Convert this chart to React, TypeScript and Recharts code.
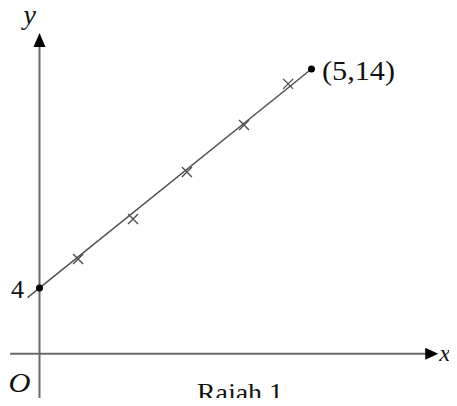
import { ComposedChart, XAxis, YAxis, Line, Scatter, ReferenceLine, ReferenceDot } from 'recharts';

// fitted straight line, drawn a little past the y-axis
const LINE_X = [-0.22, 5];
const LINE_Y = [3.56, 14];

// plotted points (crosses)
const CROSS_X = [0.71, 1.72, 2.71, 3.76, 4.57];
const CROSS_Y = [5.32, 7.15, 9.3, 11.44, 13.32];

// labelled points (filled dots)
const DOT_X = [0, 5];
const DOT_Y = [4, 14];
const DOT_LABELS = ['4', '(5,14)'];

// the sketch is not to scale: horizontal axis sits at y = 1
const X_AXIS_LEVEL = 1;
const X_AXIS_END = [-0.54, 7.33];
const Y_AXIS_END = [-1.2, 15.64];

const lineData = LINE_X.map((x, i) => ({ x, y: LINE_Y[i] }));
const crossData = CROSS_X.map((x, i) => ({ x, y: CROSS_Y[i] }));
const dotData = DOT_X.map((x, i) => ({ x, y: DOT_Y[i] }));

const W = 457;
const H = 406;
const AXIS = '#6a6a6a';
const INK = '#505050';
const SERIF = 'Liberation Serif';

function Cross({ cx, cy }: { cx?: number; cy?: number }) {
  if (cx == null || cy == null) return null;
  const s = 5;
  return (
    <path
      d={`M${cx - s},${cy - s}L${cx + s},${cy + s}M${cx - s},${cy + s}L${cx + s},${cy - s}`}
      stroke={INK}
      strokeWidth={1.4}
      fill="none"
    />
  );
}

function Dot({ cx, cy }: { cx?: number; cy?: number }) {
  if (cx == null || cy == null) return null;
  return <circle cx={cx} cy={cy} r={3.5} fill="#000" />;
}

const arrowUp = ({ cx, cy }: { cx: number; cy: number }) => (
  <path d={`M${cx},${cy}L${cx - 6},${cy + 14}L${cx + 6},${cy + 14}Z`} fill="#000" />
);

const arrowRight = ({ cx, cy }: { cx: number; cy: number }) => (
  <path d={`M${cx},${cy}L${cx - 13},${cy - 6}L${cx - 13},${cy + 6}Z`} fill="#000" />
);

// text placed relative to a reference point
function textAt(
  value: string,
  dx: number,
  dy: number,
  size: number,
  opts: { italic?: boolean; width?: number } = {},
) {
  return ({ cx, cy }: { cx: number; cy: number }) => (
    <text
      x={cx + dx}
      y={cy + dy}
      style={{ fontFamily: SERIF, fontSize: size, fontStyle: opts.italic ? 'italic' : 'normal' }}
      fill="#111"
      textLength={opts.width}
      lengthAdjust={opts.width ? 'spacingAndGlyphs' : undefined}
    >
      {value}
    </text>
  );
}

export default function App() {
  return (
    <div style={{ margin: -8, width: W, height: H, background: '#fff', overflow: 'visible' }}>
      <ComposedChart
        width={W}
        height={H}
        margin={{ top: 0, right: 0, bottom: 0, left: 0 }}
        style={{ overflow: 'visible' }}
      >
        <XAxis type="number" dataKey="x" hide domain={[-0.726, 7.675]} allowDataOverflow />
        <YAxis type="number" dataKey="y" hide domain={[-1.39, 17.15]} allowDataOverflow />

        <ReferenceLine
          segment={[{ x: 0, y: Y_AXIS_END[0] }, { x: 0, y: Y_AXIS_END[1] - 0.5 }]}
          stroke={AXIS}
          strokeWidth={2}
        />
        <ReferenceLine
          segment={[{ x: X_AXIS_END[0], y: X_AXIS_LEVEL }, { x: X_AXIS_END[1] - 0.2, y: X_AXIS_LEVEL }]}
          stroke={AXIS}
          strokeWidth={2}
        />
        <ReferenceDot x={0} y={Y_AXIS_END[1]} shape={arrowUp} />
        <ReferenceDot x={X_AXIS_END[1]} y={X_AXIS_LEVEL} shape={arrowRight} />

        <Line
          data={lineData}
          dataKey="y"
          stroke={INK}
          strokeWidth={1.5}
          dot={false}
          activeDot={false}
          isAnimationActive={false}
        />
        <Scatter data={crossData} dataKey="y" shape={<Cross />} isAnimationActive={false} />
        <Scatter data={dotData} dataKey="y" shape={<Dot />} isAnimationActive={false} />

        <ReferenceDot x={0} y={Y_AXIS_END[1]} shape={textAt('y', -16, -9, 28, { italic: true })} />
        <ReferenceDot x={X_AXIS_END[1]} y={X_AXIS_LEVEL} shape={textAt('x', 1, 7, 23, { italic: true, width: 11 })} />
        <ReferenceDot x={0} y={X_AXIS_LEVEL} shape={textAt('O', -31, 38, 28, { italic: true, width: 22 })} />
        <ReferenceDot x={DOT_X[0]} y={DOT_Y[0]} shape={textAt(DOT_LABELS[0], -28.5, 10, 25, { width: 13 })} />
        <ReferenceDot x={DOT_X[1]} y={DOT_Y[1]} shape={textAt(DOT_LABELS[1], 10.5, 11, 27, { width: 73 })} />
        <ReferenceDot x={0} y={X_AXIS_LEVEL} shape={textAt('Rajah 1', 157.5, 47, 26, { width: 86 })} />
      </ComposedChart>
    </div>
  );
}
